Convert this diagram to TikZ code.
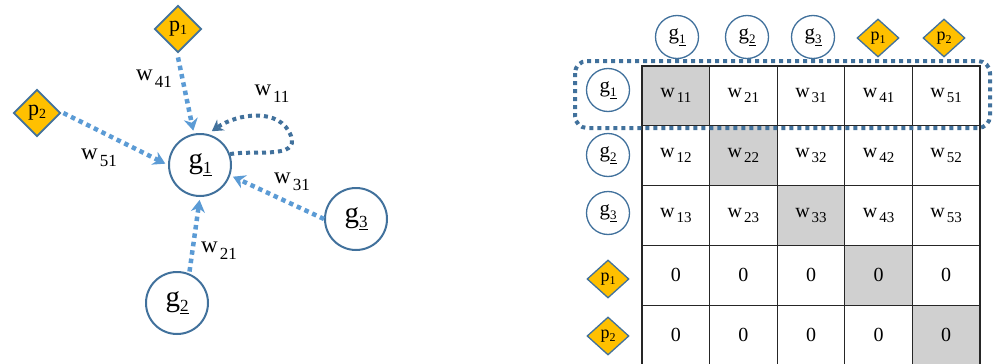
\documentclass[tikz,border=0pt]{standalone}
\usepackage{fontspec}
\setmainfont{Liberation Serif}
\usetikzlibrary{shapes.geometric,arrows.meta}
\definecolor{cdark}{HTML}{41719C}
\definecolor{clight}{HTML}{5B9BD5}
\definecolor{cgold}{HTML}{FFC000}
\definecolor{cgray}{HTML}{D0D0D0}
\newcommand{\fs}[1]{\fontsize{#1}{#1}\selectfont}
\newcommand{\wbig}[1]{{\fs{23}w\kern2pt\raisebox{-7pt}{\fs{17}#1}}}
\newcommand{\wtab}[1]{{\fs{20}w\kern2pt\raisebox{-5pt}{\fs{15}#1}}}
\newcommand{\gbig}[1]{{\fs{29}g\raisebox{-5pt}{\fs{17}\underline{#1}}}}
\newcommand{\gtab}[1]{{\fs{21}g\raisebox{-4pt}{\fs{13}\underline{#1}}}}
\newcommand{\pbig}[1]{{\fs{22}p\raisebox{-3pt}{\fs{14}#1}}}
\newcommand{\ptab}[1]{{\fs{18}p\raisebox{-3pt}{\fs{12}#1}}}
\newcommand{\zero}{{\fs{20}0}}
\newcommand{\cellat}[4][]{\node[cell,#1] (c#2#3) at ({642+67.6*(#3-0.5)},{-(66+59.8*(#2-0.5))}) {#4};}
\tikzset{
  gnode/.style={circle, draw=cdark, line width=2pt, fill=white, minimum size=62pt, inner sep=0pt},
  gsm/.style={circle, draw=cdark, line width=1.3pt, fill=white, minimum size=43pt, inner sep=0pt},
  pnode/.style={diamond, draw=cdark, line width=1.8pt, fill=cgold, minimum width=47pt, minimum height=47pt, inner sep=0pt},
  psm/.style={diamond, draw=cdark, line width=1.3pt, fill=cgold, minimum width=42pt, minimum height=38pt, inner sep=0pt},
  arr/.style={clight, line width=4.5pt, dash pattern=on 4.5pt off 4pt, -{Stealth[length=12pt,width=14pt]}, shorten >=3pt},
  selfarr/.style={cdark, line width=4pt, dash pattern=on 4pt off 4pt, -{Stealth[length=11pt,width=13pt]}},
  lab/.style={inner sep=0pt},
  cell/.style={draw=black!85, line width=1.2pt, minimum width=67.6pt, minimum height=59.8pt, inner sep=0pt},
  rowbox/.style={cdark, line width=4pt, dash pattern=on 4pt off 4pt, rounded corners=12pt}
}
\begin{document}
\begin{tikzpicture}[x=1pt,y=1pt]
\useasboundingbox[fill=white] (0,0) rectangle (993,-364);
% left graph
\node[gnode] (g1) at (200,-165) {\gbig{1}};
\node[gnode] (g2) at (177,-303) {\gbig{2}};
\node[gnode] (g3) at (356,-219) {\gbig{3}};
\node[pnode] (p1) at (178,-29) {\pbig{1}};
\node[pnode] (p2) at (37,-113) {\pbig{2}};
\draw[arr] ([yshift=-4pt]p1.south) -- (g1.101);
\draw[arr] ([xshift=2pt]p2.east) -- (g1.west);
\draw[arr] (g3.west) -- (g1.-19);
\draw[arr] ([yshift=2pt]g2.67) -- (g1.south);
\coordinate (lp) at (291,-136);
\draw[selfarr] (g1.20) to[out=10,in=-70] (lp) to[out=110,in=35] ([shift={(3pt,3pt)}]g1.74);
\node[lab] (l41) at (154,-79) {\wbig{41}};
\node[lab] (l51) at (99,-158) {\wbig{51}};
\node[lab] (l11) at (272,-94) {\wbig{11}};
\node[lab] (l31) at (292,-182) {\wbig{31}};
\node[lab] (l21) at (219,-251) {\wbig{21}};
% matrix
\cellat[fill=cgray]{1}{1}{\wtab{11}}
\cellat{1}{2}{\wtab{21}}
\cellat{1}{3}{\wtab{31}}
\cellat{1}{4}{\wtab{41}}
\cellat{1}{5}{\wtab{51}}
\cellat{2}{1}{\wtab{12}}
\cellat[fill=cgray]{2}{2}{\wtab{22}}
\cellat{2}{3}{\wtab{32}}
\cellat{2}{4}{\wtab{42}}
\cellat{2}{5}{\wtab{52}}
\cellat{3}{1}{\wtab{13}}
\cellat{3}{2}{\wtab{23}}
\cellat[fill=cgray]{3}{3}{\wtab{33}}
\cellat{3}{4}{\wtab{43}}
\cellat{3}{5}{\wtab{53}}
\cellat{4}{1}{\zero}
\cellat{4}{2}{\zero}
\cellat{4}{3}{\zero}
\cellat[fill=cgray]{4}{4}{\zero}
\cellat{4}{5}{\zero}
\cellat{5}{1}{\zero}
\cellat{5}{2}{\zero}
\cellat{5}{3}{\zero}
\cellat{5}{4}{\zero}
\cellat[fill=cgray]{5}{5}{\zero}
% headers
\node[gsm] (hg1) at (677,-37) {\gtab{1}};
\node[gsm] (hg2) at (747,-37) {\gtab{2}};
\node[gsm] (hg3) at (813,-37) {\gtab{3}};
\node[psm] (hp1) at (878,-38) {\ptab{1}};
\node[psm] (hp2) at (944,-38) {\ptab{2}};
\node[gsm] (rg1) at (608,-90) {\gtab{1}};
\node[gsm] (rg2) at (608,-155) {\gtab{2}};
\node[gsm] (rg3) at (608,-213) {\gtab{3}};
\node[psm] (rp1) at (608,-279) {\ptab{1}};
\node[psm] (rp2) at (608,-336) {\ptab{2}};
\draw[rowbox] (575,-61) rectangle (990,-128);
\end{tikzpicture}
\end{document}
